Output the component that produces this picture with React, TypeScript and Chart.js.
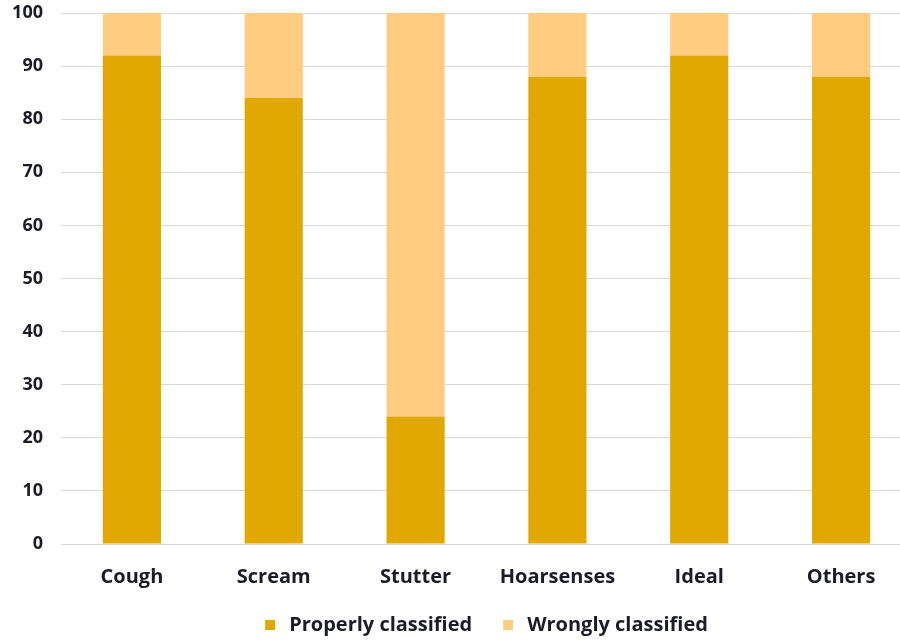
import React, { useEffect, useRef } from "react";
import { Chart, registerables } from "chart.js";

Chart.register(...registerables);

const categories = ["Cough", "Scream", "Stutter", "Hoarsenses", "Ideal", "Others"];
const properlyClassified = [92, 84, 24, 88, 92, 88];
const wronglyClassified = [8, 16, 76, 12, 8, 12];
const seriesNames = ["Properly classified", "Wrongly classified"];
const seriesColors = ["#E0A800", "#FFCC80"];

const FONT_FAMILY = "'Open Sans', 'Noto Sans', sans-serif";
const TEXT_COLOR = "#1c1c28";

// Legend drawn under the x axis, centred on the plot area
const bottomLegend = {
  id: "bottomLegend",
  afterDraw(chart: any) {
    const ctx = chart.ctx as CanvasRenderingContext2D;
    const area = chart.chartArea;
    const box = 10;
    const boxGap = 14;
    const itemGap = 31;
    ctx.save();
    ctx.font = `700 20px ${FONT_FAMILY}`;
    ctx.textBaseline = "middle";
    ctx.textAlign = "left";
    const items = chart.data.datasets.map((ds: any) => ({
      text: ds.label as string,
      color: ds.backgroundColor as string,
      width: ctx.measureText(ds.label).width,
    }));
    const total =
      items.reduce((s: number, it: any) => s + box + boxGap + it.width, 0) +
      itemGap * (items.length - 1);
    let x = (area.left + area.right) / 2 - total / 2;
    const y = 625;
    for (const it of items) {
      ctx.fillStyle = it.color;
      ctx.fillRect(x, y - box / 2, box, box);
      x += box + boxGap;
      ctx.fillStyle = TEXT_COLOR;
      ctx.fillText(it.text, x, y);
      x += it.width + itemGap;
    }
    ctx.restore();
  },
};

export default function App() {
  const canvasRef = useRef<HTMLCanvasElement | null>(null);

  useEffect(() => {
    if (!canvasRef.current) return;
    const chart = new Chart(canvasRef.current, {
      type: "bar",
      data: {
        labels: categories,
        datasets: [
          {
            label: seriesNames[0],
            data: properlyClassified,
            backgroundColor: seriesColors[0],
            borderWidth: 0,
          },
          {
            label: seriesNames[1],
            data: wronglyClassified,
            backgroundColor: seriesColors[1],
            borderWidth: 0,
          },
        ],
      },
      options: {
        animation: false,
        responsive: false,
        maintainAspectRatio: false,
        layout: { padding: { left: 11, top: 13, right: 0, bottom: 34 } },
        datasets: {
          bar: { categoryPercentage: 1, barPercentage: 0.41 },
        },
        plugins: {
          legend: { display: false },
          tooltip: { enabled: false },
        },
        scales: {
          x: {
            stacked: true,
            grid: { display: false, drawTicks: false },
            border: { display: false },
            ticks: {
              padding: 21,
              color: TEXT_COLOR,
              font: { family: FONT_FAMILY, size: 20, weight: "bold" },
            },
          },
          y: {
            stacked: true,
            min: 0,
            max: 100,
            afterFit: (scale: any) => {
              scale.width = 50;
              scale.paddingTop = 0;
              scale.paddingBottom = 0;
            },
            grid: { color: "#d9d9d9", lineWidth: 1, drawTicks: false },
            border: { display: false },
            ticks: {
              stepSize: 10,
              padding: 18,
              color: TEXT_COLOR,
              font: { family: FONT_FAMILY, size: 18, weight: "bold" },
            },
          },
        },
      },
      plugins: [bottomLegend],
    });
    return () => chart.destroy();
  }, []);

  return (
    <div
      style={{
        position: "absolute",
        left: 0,
        top: 0,
        width: 900,
        height: 644,
        overflow: "hidden",
        background: "#ffffff",
      }}
    >
      <canvas
        ref={canvasRef}
        width={912}
        height={644}
        style={{ position: "absolute", left: 0, top: 0, width: 912, height: 644 }}
      />
    </div>
  );
}
